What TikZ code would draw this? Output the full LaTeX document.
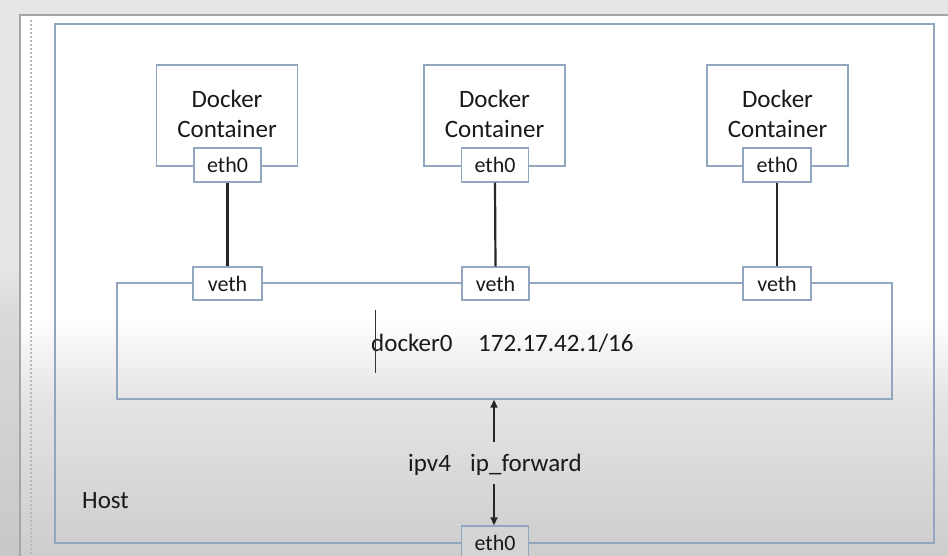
\documentclass[tikz,border=0pt]{standalone}
\usepackage{fontspec}
\setmainfont{Carlito}
\usetikzlibrary{arrows.meta}
\definecolor{boxblue}{RGB}{146,166,192}
\definecolor{margin}{RGB}{230,230,230}
\definecolor{slideedge}{RGB}{165,165,165}
\definecolor{dotgray}{RGB}{185,185,185}
\definecolor{gA}{RGB}{205,205,205}
\definecolor{gB}{RGB}{228,228,228}
\definecolor{gC}{RGB}{244,244,244}
\definecolor{mA}{RGB}{200,200,200}
\definecolor{mB}{RGB}{218,218,218}
\pgfdeclareverticalshading{slidebg}{100bp}{color(0bp)=(gA); color(25bp)=(gA); color(39.4bp)=(gB); color(44bp)=(gC); color(47bp)=(white); color(100bp)=(white)}
\pgfdeclareverticalshading{marginbg}{100bp}{color(0bp)=(mA); color(25bp)=(mA); color(47bp)=(mB); color(51bp)=(margin); color(100bp)=(margin)}
\tikzset{
  bigfont/.style={font=\fontsize{25}{30}\selectfont},
  smallfont/.style={font=\fontsize{22}{26}\selectfont},
  frame/.style={draw=boxblue, line width=1.4pt},
  cbox/.style={frame, fill=white, minimum width=141pt, minimum height=101pt, inner sep=0pt},
  portbox/.style={frame, fill=white, smallfont, text=black!90, minimum width=67pt, minimum height=34pt, inner sep=0pt},
  wire/.style={line width=2.2pt, black!85},
  arrowline/.style={line width=1.8pt, black!85, -{Triangle[length=8pt,width=7pt]}},
  txt/.style={bigfont, inner sep=0pt, text=black!90},
}
\begin{document}
\begin{tikzpicture}[x=1pt, y=-1pt]
\useasboundingbox (0,0) rectangle (948,556);
% background
\shade[shading=marginbg] (0,0) rectangle (948,556);
\shade[shading=slidebg] (20,15) rectangle (948,556);
\draw[slideedge, line width=1.2pt] (20,556) -- (20,15) -- (948,15);
\draw[dotgray, line width=1.6pt, dash pattern=on 1.6pt off 2.4pt] (31,20) -- (31,556);
% host
\node[frame, minimum width=879pt, minimum height=519pt, inner sep=0pt] (host) at (494.5,283.5) {};
\node[txt, anchor=base west] (hostlbl) at (82,508) {Host};
% bridge
\node[frame, minimum width=775pt, minimum height=116pt, inner sep=0pt] (bridge) at (504.5,341) {};
\node[txt, anchor=base west] (br0) at (371,351) {docker0};
\node[txt, anchor=base west] (brip) at (478,351) {172.17.42.1/16};
\draw[black!80, line width=0.9pt] (375,310) -- (375,373);
% containers
\foreach \n/\x in {1/227, 2/494.5, 3/777.5}{
  \node[cbox] (c\n) at (\x,115.5) {};
  \node[txt, anchor=base] (d\n) at (\x,108) {Docker};
  \node[txt, anchor=base] (k\n) at (\x,138) {Container};
}
\node[portbox] (e1) at (227.5,165) {eth0};
\node[portbox] (e2) at (495,165) {eth0};
\node[portbox, minimum width=68pt] (e3) at (777,165) {eth0};
\node[portbox, minimum width=69pt, minimum height=33pt] (v1) at (227.5,283.5) {veth};
\node[portbox, minimum width=67pt, minimum height=33pt] (v2) at (495.5,283.5) {veth};
\node[portbox, minimum width=68pt, minimum height=33pt] (v3) at (777,283.5) {veth};
\draw[wire] (e1.south) -- (v1.north);
\draw[wire] (e2.south) -- (v2.north);
\draw[wire] (e3.south) -- (v3.north);
% host eth0
\node[portbox, fill=gA!70!gB, minimum height=34pt] (he) at (495,543) {eth0};
% ip forward
\node[txt, anchor=base west] (ipv) at (408,471) {ipv4};
\node[txt, anchor=base west] (ipf) at (470,471) {ip\_forward};
\coordinate (upstart) at (494,442);
\coordinate (downstart) at (494,484);
\draw[arrowline] (upstart) -- (upstart |- bridge.south);
\draw[arrowline] (downstart) -- (downstart |- he.north);
\end{tikzpicture}
\end{document}
